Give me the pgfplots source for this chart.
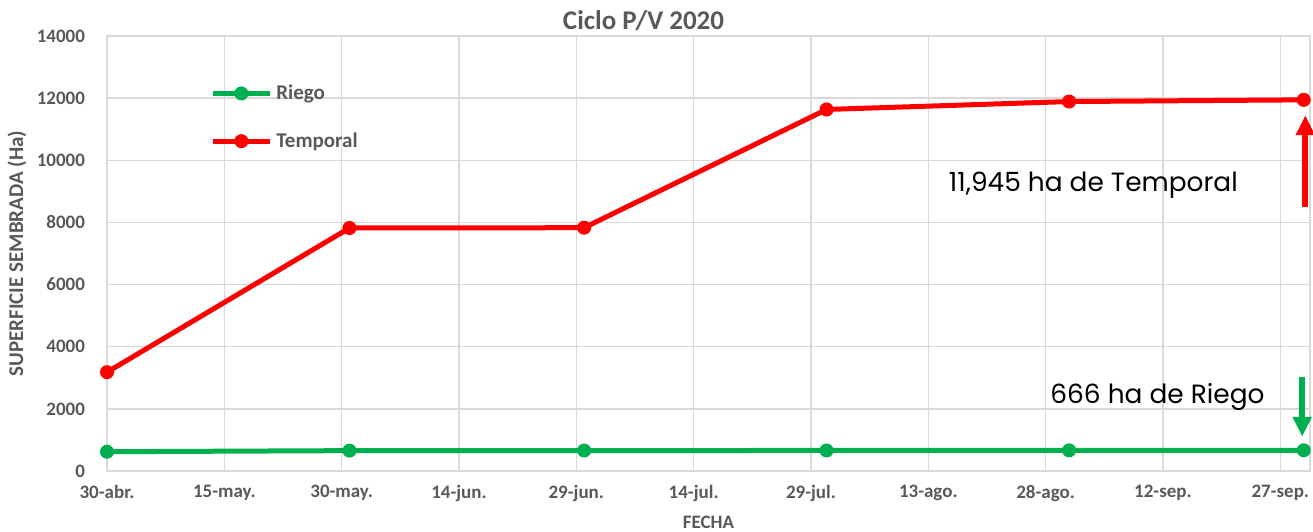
\documentclass[border=0pt]{standalone}
\usepackage{pgfplots}
\pgfplotsset{compat=1.18}
\usetikzlibrary{arrows.meta}
\usepackage{fontspec}
\setmainfont{Carlito}
\newfontfamily\poppins{Poppins}
\definecolor{txtgray}{HTML}{595959}
\definecolor{gridgray}{HTML}{D9D9D9}
\definecolor{riego}{HTML}{00B050}
\definecolor{temporal}{HTML}{FF0000}
\begin{document}
\begin{tikzpicture}
\begin{axis}[
  name=ax,
  scale only axis,
  width=601.5pt, height=217.5pt,
  xmin=0, xmax=153.8,
  ymin=0, ymax=14000,
  clip=false,
  xtick={0,15,...,150},
  xticklabels={30-abr.,15-may.,30-may.,14-jun.,29-jun.,14-jul.,29-jul.,13-ago.,28-ago.,12-sep.,27-sep.},
  ytick={0,2000,...,14000},
  scaled y ticks=false,
  /pgf/number format/assume math mode=true,
  /pgf/number format/1000 sep={},
  major tick length=0pt,
  grid=major,
  grid style={gridgray, line width=0.75pt},
  axis line style={gridgray, line width=1pt},
  tick label style={font=\bfseries\fontsize{9.5}{11}\selectfont, text=txtgray},
  yticklabel style={xshift=-7.5pt},
  xticklabel style={yshift=-3.5pt},
  xlabel={FECHA},
  ylabel={SUPERFICIE SEMBRADA (Ha)},
  xlabel style={at={(axis description cs:0.5,-0.117)}, anchor=center, font=\bfseries\fontsize{9.5}{11}\selectfont, text=txtgray},
  ylabel style={at={(axis description cs:-0.0748,0.5)}, anchor=center, rotate=0, font=\bfseries\fontsize{10.5}{12}\selectfont, text=txtgray},
  legend style={at={(rel axis cs:0.0856,0.8985)}, anchor=north west, draw=none, fill=none,
    font=\bfseries\fontsize{10.5}{12}\selectfont, text=txtgray, row sep=11pt, inner sep=0pt},
  legend cell align=left,
  legend image code/.code={\draw[mark repeat=2,mark phase=2,#1] plot coordinates {(0pt,0pt)(14.25pt,0pt)(28.5pt,0pt)};},
]
\addplot[riego, line width=2.5pt, mark=*, mark size=3pt, mark options={solid, line width=1pt}] coordinates {
  (0,620) (31,655) (61,658) (92,660) (123,663) (153,666)};
\addlegendentry{Riego}
\addplot[temporal, line width=2.5pt, mark=*, mark size=3pt, mark options={solid, line width=1pt}] coordinates {
  (0,3180) (31,7820) (61,7830) (92,11635) (123,11890) (153,11945)};
\addlegendentry{Temporal}
\node[font=\poppins\fontsize{13.2}{15}\selectfont, text=black] at (axis cs:126.1,9211) {11,945 ha de Temporal};
\node[font=\poppins\fontsize{13.2}{15}\selectfont, text=black] at (axis cs:134.3,2383) {666 ha de Riego};
\draw[temporal, line width=3pt, -{Triangle[width=9pt,length=10pt]}] (axis cs:153.2,8500) -- (axis cs:153.2,11450);
\draw[riego, line width=3pt, -{Triangle[width=9pt,length=10pt]}] (axis cs:152.8,3030) -- (axis cs:152.8,1100);
\node[font=\bfseries\fontsize{13.5}{15}\selectfont, text=txtgray, anchor=base] at (rel axis cs:0.446,1) [yshift=3pt] {Ciclo P/V 2020};
\end{axis}
\pgfresetboundingbox
\path ([shift={(-53.5pt,-30.5pt)}]ax.south west) rectangle ([shift={(1.5pt,18pt)}]ax.north east);
\end{tikzpicture}
\end{document}
